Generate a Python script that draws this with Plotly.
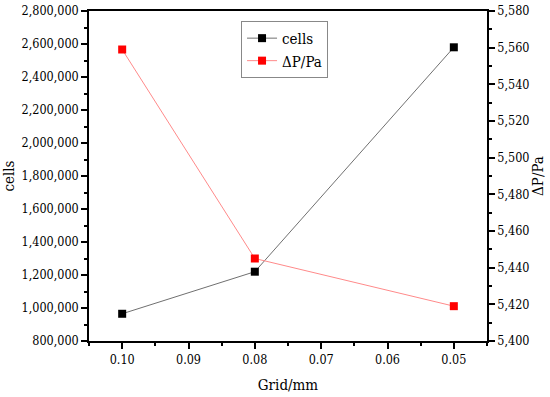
import plotly.graph_objects as go

grid_mm = [0.10, 0.08, 0.05]
cells = [965000, 1220000, 2580000]
dp_pa = [5559, 5445, 5419]

TICKFONT = "DejaVu Serif Condensed, DejaVu Serif"

fig = go.Figure()
fig.add_trace(go.Scatter(
    x=grid_mm, y=cells, name="cells", mode="lines+markers",
    line=dict(color="#707070", width=1),
    marker=dict(symbol="square", size=8, color="black"),
    yaxis="y"))
fig.add_trace(go.Scatter(
    x=grid_mm, y=dp_pa, name="ΔP/Pa", mode="lines+markers",
    line=dict(color="#ff8a8a", width=1),
    marker=dict(symbol="square", size=8, color="red"),
    yaxis="y2"))

axis_common = dict(showline=True, linecolor="black", linewidth=1.5,
                   ticks="outside", ticklen=6, tickwidth=1.5, tickcolor="black",
                   showgrid=False, zeroline=False, automargin=False,
                   tickfont=dict(family=TICKFONT, size=12.5, color="black"))

fig.update_layout(
    width=550, height=397,
    margin=dict(l=89, r=63, t=11, b=56),
    paper_bgcolor="white", plot_bgcolor="white",
    font=dict(family=TICKFONT, color="black"),
    showlegend=True,
    legend=dict(x=0.382, y=0.97, xanchor="left", yanchor="top",
                bordercolor="#888888", borderwidth=1, bgcolor="white",
                font=dict(family=TICKFONT, size=15, color="black"),
                tracegroupgap=0, itemwidth=30),
    xaxis=dict(range=[0.105, 0.045], dtick=0.01, tick0=0.05, tickformat=".2f",
               mirror=True,
               minor=dict(ticks="outside", dtick=0.005, tick0=0.045, ticklen=3,
                          tickwidth=1.5, tickcolor="black"),
               title=dict(text="Grid/mm", font=dict(family=TICKFONT, size=15), standoff=14),
               **axis_common),
    yaxis=dict(range=[800000, 2800000], dtick=200000, tick0=800000, tickformat=",",
               minor=dict(ticks="outside", dtick=100000, ticklen=3,
                          tickwidth=1.5, tickcolor="black"),
               title=dict(text="cells", font=dict(family=TICKFONT, size=15), standoff=4),
               **axis_common),
    yaxis2=dict(range=[5400, 5580], dtick=20, tick0=5400, tickformat=",",
                overlaying="y", side="right",
                minor=dict(ticks="outside", dtick=10, ticklen=3,
                           tickwidth=1.5, tickcolor="black"),
                title=dict(text="ΔP/Pa", font=dict(family=TICKFONT, size=15), standoff=4),
                **axis_common),
)

fig.write_html("out.html", config={"displayModeBar": False},
               post_script="document.body.style.margin='0';document.body.style.padding='0';")
